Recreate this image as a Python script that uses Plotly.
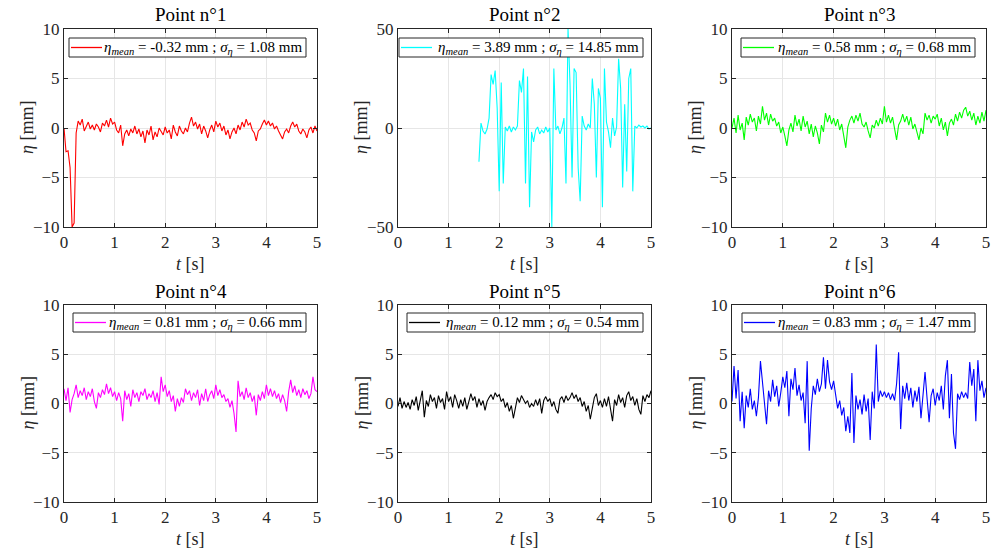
import plotly.graph_objects as go

# ---------------- data ----------------
dt = 0.04  # sampling step [s]

eta1 = [0.0, -2.4, -2.3, -4.0, -10.0, -9.6, -0.5, 0.7, 0.3, 0.9,
        -0.3, 0.2, 0.6, -0.1, 0.3, -0.2, 0.4, 0.1, -0.4, 0.5,
        0.2, 0.8, 0.1, 1.0, 0.4, 0.6, -0.2, -0.5, 0.3, -1.8,
        -0.6, -0.2, -0.8, -0.1, -0.5, 0.2, -0.6, -0.1, -0.9, -0.3,
        -1.5, -0.2, -0.7, 0.2, -1.2, -0.4, -0.9, 0.0, -0.3, -0.7,
        0.1, -0.5, -0.2, -1.1, 0.3, -0.4, -0.8, 0.2, -0.3, -0.6,
        0.0, -0.4, 0.5, 1.1, 0.2, 0.6, -0.1, 0.4, -0.6, 0.2,
        -0.3, -1.0, -0.2, 0.3, -0.4, 0.7, 0.1, 0.5, -0.3, 0.2,
        -0.7, -0.2, -1.1, -0.4, 0.0, -0.6, 0.3, -0.2, 0.6, 0.1,
        0.9, 0.3, 0.5, -0.2, -0.5, -1.3, -0.3, -0.1, 0.4, 0.8,
        0.3, 0.7, 0.2, 0.5, -0.1, 0.2, -0.3, -0.7, -1.1, -0.4,
        -0.1, -0.5, 0.2, 0.6, 0.1, 0.4, -0.3, -0.6, -0.1, -0.4,
        -1.0, -0.2, 0.1, -0.5, 0.2, -0.3]

eta2 = [None] * 40 + [
        -17, 2.5, -1.5, -3.0, -0.5, 5.0, 27, 22, 29, 10,
        -32, 23, -28, 0.5, -1.5, 1.0, -2.0, 0.5, -1.0, 1.0,
        24, 18, 30, -28, 26, -40, -2.0, -7.0, -1.0, 0.5,
        -3.0, -1.0, -2.5, 0.5, -2.0, 0.0, -50, 30, -1.0, 1.0,
        -3.0, 0.0, 5.0, -28, 50, 22, -25, 30, 28, -20,
        -37, 6.0, 1.0, -1.0, 2.0, 0.0, 25, 12, -25, 20,
        15, -40, 30, 3.0, -2.0, -10, 5.0, -4.0, 0.5, 35,
        20, -30, 12, -22, 25, 30, -32, 1.0, 0.0, 1.5,
        0.5, 1.0, 0.0, 1.0, -0.5, 0.0]

eta3 = [0.0, 1.0, -0.5, 1.3, -0.2, 0.5, -1.2, 1.1, 0.3, 1.4,
        0.6, 1.0, -0.3, 1.2, 0.4, 2.2, 0.8, 1.5, 0.3, 1.4,
        0.7, 1.0, 0.2, 0.6, -0.5, 0.1, -0.8, -1.8, -0.2, 0.5,
        -0.4, 1.3, 0.2, 0.9, -0.3, 1.2, 0.1, 0.7, -0.6, 0.4,
        -0.9, 0.2, -0.5, -1.6, 0.3, -0.4, 1.5, 0.6, 1.3, 0.4,
        1.0, 0.2, 0.9, -0.2, 0.4, -0.7, -2.0, 0.1, 0.8, 1.2,
        0.5, 1.3, 0.7, 1.5, 0.4, 0.1, 0.6, -0.3, -1.0, 0.3,
        0.0, 0.8, 0.2, 1.0, 0.4, 2.2, 0.6, 1.3, 0.5, 1.1,
        -0.2, -1.2, 0.3, 0.7, 1.4, 0.6, 1.2, 0.3, 1.1, -0.1,
        0.4, -0.5, -1.2, 0.0, -0.6, 1.5, 0.8, 1.3, 0.5, 1.2,
        0.9, 1.4, 0.2, 1.0, -0.2, 0.6, -0.8, 0.5, 0.9, 0.3,
        1.4, 0.7, 1.6, 1.0, 1.8, 2.1, 1.2, 1.7, 0.8, 1.5,
        0.3, 1.2, 0.5, 1.6, 0.7, 1.8]

eta4 = [1.5, 0.3, 1.6, -0.9, 0.4, 1.0, 1.9, 0.6, 1.3, 0.8,
        1.6, 0.4, 1.2, 0.7, 1.5, 0.2, -0.5, 1.1, 0.6, 1.4,
        0.9, 2.0, 1.0, 1.6, 0.7, 1.2, 0.3, 1.1, 0.5, -1.8,
        1.3, 0.4, 1.0, -0.3, 1.4, 0.6, 1.1, 0.2, 1.2, 0.8,
        1.5, 0.4, 1.0, 0.6, 1.3, 0.2, 1.1, -0.1, 2.7, 1.2,
        1.9, 0.7, 1.3, 0.2, 0.8, -0.8, 0.5, -0.3, 0.6, 0.1,
        1.5, 0.9, 1.3, 0.3, 1.1, 0.6, 1.4, -0.2, 1.0, 0.3,
        1.5, 0.2, 0.9, 1.3, 0.5, 1.9, 0.8, 1.4, 0.6, 0.9,
        0.2, 0.5, -0.4, 0.3, -1.0, -2.9, 2.3, 0.7, 1.2, 0.4,
        1.6, 0.6, 1.1, 0.2, 0.8, -1.2, 0.9, 0.3, 1.2, 0.5,
        1.9, 0.8, 1.5, 0.7, 1.3, 0.5, 1.0, 0.1, 0.9, 0.3,
        -0.8, 1.2, 2.4, 1.1, 1.8, 0.8, 1.4, 0.6, 1.5, 0.9,
        1.3, 0.5, 1.0, 2.7, 1.4, 1.2]

eta5 = [-0.3, 0.6, -0.5, 0.2, -0.4, 0.1, -0.6, 0.4, -0.2, 0.7,
        -0.7, 0.5, 1.3, -1.4, 0.3, -0.3, 0.9, 0.2, 0.6, -0.5,
        0.8, 0.1, 0.5, -0.6, 1.2, 0.2, 0.7, -0.4, 0.9, 0.3,
        -0.5, 0.4, -0.3, 0.6, -0.6, 0.2, 1.0, 0.3, 0.7, -0.4,
        0.5, -0.2, 0.3, -0.7, 0.2, 0.6, 0.9, 0.4, 1.1, 0.7,
        0.9, 0.2, 0.5, -0.4, 0.1, -0.8, -0.2, -1.5, -0.3, 0.6,
        0.1, 0.8, 0.4, 0.0, 0.3, -0.4, 0.0, -0.3, 0.4, -0.2,
        0.5, -1.0, 0.3, 0.7, 0.2, 0.5, -0.3, 0.2, -0.6, -1.0,
        0.4, 0.7, 0.1, 0.8, 0.3, 0.6, 1.1, 0.5, 0.9, 0.2,
        0.6, -0.3, 0.2, -0.8, -0.2, -1.6, -0.5, 0.6, 1.0, -0.2,
        0.3, -0.4, 0.5, -0.3, 0.7, -0.8, -1.8, 0.4, -0.2, 0.9,
        0.1, 0.6, -0.4, 0.8, 1.2, 0.3, 0.7, -0.2, 0.5, -0.6,
        -1.1, 0.8, 0.2, 0.9, 0.6, 1.3]

eta6 = [0.2, 3.8, 0.5, 3.4, -1.8, 1.2, -2.5, 0.8, -0.4, 1.5,
        -0.6, 0.3, -1.3, 0.6, 4.3, 2.3, 0.4, -2.1, 1.3, 0.2,
        2.4, 0.7, 1.8, -0.3, 1.1, 2.7, 1.6, 3.3, -1.3, 2.5,
        1.4, 3.6, 0.8, 1.9, 0.3, 1.1, -2.0, 4.3, -4.8, -0.5,
        1.8, 0.9, 2.5, 1.2, 2.0, 4.7, 1.5, 4.4, 2.2, 1.4,
        2.3, 1.0, -0.5, 0.3, -1.2, -0.4, -2.8, -1.3, -3.0, 3.1,
        -4.0, 0.8, -0.6, 0.4, -1.1, 0.9, -0.8, 0.5, -3.7, 1.2,
        -0.5, 6.0, 0.2, 1.3, 0.7, 1.2, 0.6, 1.1, 0.4, 1.0,
        0.3, 2.0, 5.2, -2.6, 1.8, 0.5, 2.1, 0.3, 1.6, -0.4,
        1.3, 0.2, 1.7, -1.5, 1.0, 3.2, 0.5, -1.9, 0.8, 1.5,
        -0.2, 1.1, 0.3, 1.8, -0.6, 2.8, 4.4, -1.5, 3.0, -3.0,
        -4.6, 1.0, 0.4, 1.2, 0.6, 1.1, 0.5, 4.2, 1.8, 3.5,
        -1.8, 4.4, 1.3, 2.3, 0.6, 1.6]

series = [eta1, eta2, eta3, eta4, eta5, eta6]
colors = ["#FF0000", "#00FFFF", "#00FF00", "#FF00FF", "#000000", "#0000FF"]
means = ["-0.32", "3.89", "0.58", "0.81", "0.12", "0.83"]
stds = ["1.08", "14.85", "0.68", "0.66", "0.54", "1.47"]
titles = ["Point n°1", "Point n°2", "Point n°3", "Point n°4", "Point n°5", "Point n°6"]
x_label = "<i>t</i> [s]"
y_label = "<i>η</i> [mm]"
y_ranges = [[-10, 10], [-50, 50], [-10, 10], [-10, 10], [-10, 10], [-10, 10]]
y_ticks = [[-10, -5, 0, 5, 10], [-50, 0, 50], [-10, -5, 0, 5, 10],
           [-10, -5, 0, 5, 10], [-10, -5, 0, 5, 10], [-10, -5, 0, 5, 10]]
x_ticks = [0, 1, 2, 3, 4, 5]

# ---------------- layout geometry (window pixels) ----------------
W, H = 996, 557


def px(x):
    return x / W


def py(y):
    return 1 - y / H


col_px = [(64, 317), (398, 651), (732, 986)]
row_px = [(29, 227), (305, 502)]
# legend boxes: (left, right) per panel, (top, bottom) per row
leg_box_x = [(69, 306), (399, 643), (741, 975), (73, 306), (407, 643), (742, 975)]
leg_box_y = [(38, 57), (313, 332)]

FONT = "Liberation Serif"
AX = "#262626"

fig = go.Figure()
annotations = []
shapes = []
layout = dict(
    width=W, height=H,
    margin=dict(l=0, r=0, t=0, b=0, pad=0, autoexpand=False),
    paper_bgcolor="white", plot_bgcolor="white",
    font=dict(family=FONT, color=AX, size=17),
    showlegend=False,
)

for i, y in enumerate(series):
    r, c = divmod(i, 3)
    k = i + 1
    xs = "" if k == 1 else str(k)
    t = [round(dt * j, 4) for j in range(len(y))]
    label = (f"<i>η</i><sub><i>mean</i></sub> = {means[i]} mm ; "
             f"<i>σ</i><sub><i>η</i></sub> = {stds[i]} mm")
    fig.add_trace(go.Scatter(
        x=t, y=y, mode="lines",
        line=dict(color=colors[i], width=1.1),
        name=label, xaxis=f"x{xs}", yaxis=f"y{xs}", connectgaps=False,
    ))
    x0, x1 = col_px[c]
    y0, y1 = row_px[r]
    common = dict(
        showline=True, mirror="ticks", linecolor=AX, linewidth=1,
        ticks="inside", ticklen=4, tickcolor=AX, tickwidth=1,
        showgrid=True, gridcolor="#E6E6E6", gridwidth=1, zeroline=False,
        tickfont=dict(family=FONT, size=17, color=AX), automargin=False,
        ticklabeloverflow="allow",
    )
    layout[f"xaxis{xs}"] = dict(
        common, domain=[px(x0), px(x1)], range=[0, 5], tickvals=x_ticks,
        anchor=f"y{xs}",
    )
    layout[f"yaxis{xs}"] = dict(
        common, domain=[py(y1), py(y0)], range=y_ranges[i], tickvals=y_ticks[i],
        anchor=f"x{xs}",
    )
    # axis titles
    annotations.append(dict(
        text=x_label, x=px((x0 + x1) / 2), y=py(y1 + 37),
        xref="paper", yref="paper", xanchor="center", yanchor="middle",
        showarrow=False, font=dict(family=FONT, size=18, color=AX),
    ))
    annotations.append(dict(
        text=y_label, x=px(x0 - 37), y=py((y0 + y1) / 2),
        xref="paper", yref="paper", xanchor="center", yanchor="middle",
        textangle=-90, showarrow=False, font=dict(family=FONT, size=18, color=AX),
    ))
    # subplot title
    annotations.append(dict(
        text=titles[i], x=px((x0 + x1) / 2), y=py(y0 - 14),
        xref="paper", yref="paper", xanchor="center", yanchor="middle",
        showarrow=False, font=dict(family=FONT, size=19, color="black"),
    ))
    # legend box drawn per subplot (MATLAB-style)
    bl, br = leg_box_x[i]
    bt, bb = leg_box_y[r]
    cy = (bt + bb) / 2
    shapes.append(dict(type="rect", xref="paper", yref="paper",
                       x0=px(bl), x1=px(br), y0=py(bb), y1=py(bt),
                       line=dict(color=AX, width=1), fillcolor="white", layer="above"))
    shapes.append(dict(type="line", xref="paper", yref="paper",
                       x0=px(bl + 2), x1=px(bl + 33), y0=py(cy), y1=py(cy),
                       line=dict(color=colors[i], width=1.3), layer="above"))
    annotations.append(dict(
        text=label, x=px(br - 2), y=py(cy + 0.5),
        xref="paper", yref="paper", xanchor="right", yanchor="middle",
        showarrow=False, font=dict(family=FONT, size=15, color="black"),
    ))

layout["annotations"] = annotations
layout["shapes"] = shapes
fig.update_layout(**layout)
fig.write_html("out.html", config={"displayModeBar": False},
               post_script="document.body.style.margin='0px';")
